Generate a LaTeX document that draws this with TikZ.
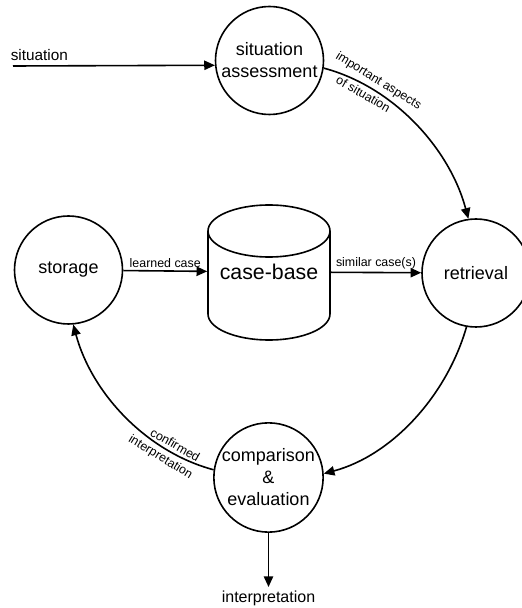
\documentclass[tikz,border=0pt]{standalone}
\usepackage{fontspec}
\setmainfont{Liberation Sans}
\usetikzlibrary{arrows.meta}
\begin{document}
\begin{tikzpicture}[x=0.75pt, y=0.75pt,
    line width=1.2pt,
    tip/.style={-{Triangle[length=8pt,width=7pt]}},
    proc/.style={circle, draw, minimum size=81pt, inner sep=0pt, align=center,
                 font=\fontsize{13.5}{16.5}\selectfont},
    elabel/.style={font=\fontsize{9.3}{10.5}\selectfont, inner sep=0.5pt},
    flow/.style={tip, looseness=0.89}]
  \useasboundingbox (0,0) rectangle (522,608);

  % process circles
  \node[proc] (sa)  at (269.5,547.5) {situation\\assessment};
  \node[proc] (st)  at (68.5,338)    {storage};
  \node[proc] (ret) at (476,335)     {retrieval};
  \node[proc] (cmp) at (268.5,130.5) {comparison\\\&\\evaluation};

  % case-base store drawn as a cylinder
  \node[minimum width=91.5pt, minimum height=60pt, inner sep=0pt,
        font=\fontsize{16}{19}\selectfont] (cb) at (269,336) {\raisebox{-9pt}{case-base}};
  \draw (208,377) arc[start angle=180, end angle=-180, x radius=61, y radius=26];
  \draw (208,377) -- (208,294) arc[start angle=180, end angle=360, x radius=61, y radius=26] -- (330,377);

  % input and output
  \coordinate (sin) at (13,542);
  \node[anchor=base west, font=\fontsize{11.5}{13}\selectfont, inner sep=0pt] (sinl) at (10,547) {situation};
  \coordinate (outp) at (268.5,21);
  \node[font=\fontsize{12}{14}\selectfont, inner sep=0pt] (outl) at (268.5,10) {interpretation};

  \draw[tip] (sin) -- (sa.185);
  \draw[tip] (cmp) -- (outp);

  \draw[tip] (st) -- node[elabel, above=1.5pt] {learned case} (cb);
  \draw[tip] (cb) -- node[elabel, above=1.5pt] {similar case(s)} (ret);

  % the retrieval cycle
  \draw[flow] (sa.-8) to[out=-15, in=105]
      node[elabel, pos=0.25, sloped, above=2pt] {important aspects}
      node[elabel, pos=0.22, sloped, below=2pt] {of situation} (ret.98);
  \draw[flow] (ret.-100) to[out=-106, in=15] (cmp.4);
  \draw[flow] (cmp.172) to[out=165, in=-75]
      node[elabel, pos=0.22, sloped, above=2pt] {confirmed}
      node[elabel, pos=0.25, sloped, below=2pt] {interpretation} (st.-85);
\end{tikzpicture}
\end{document}
